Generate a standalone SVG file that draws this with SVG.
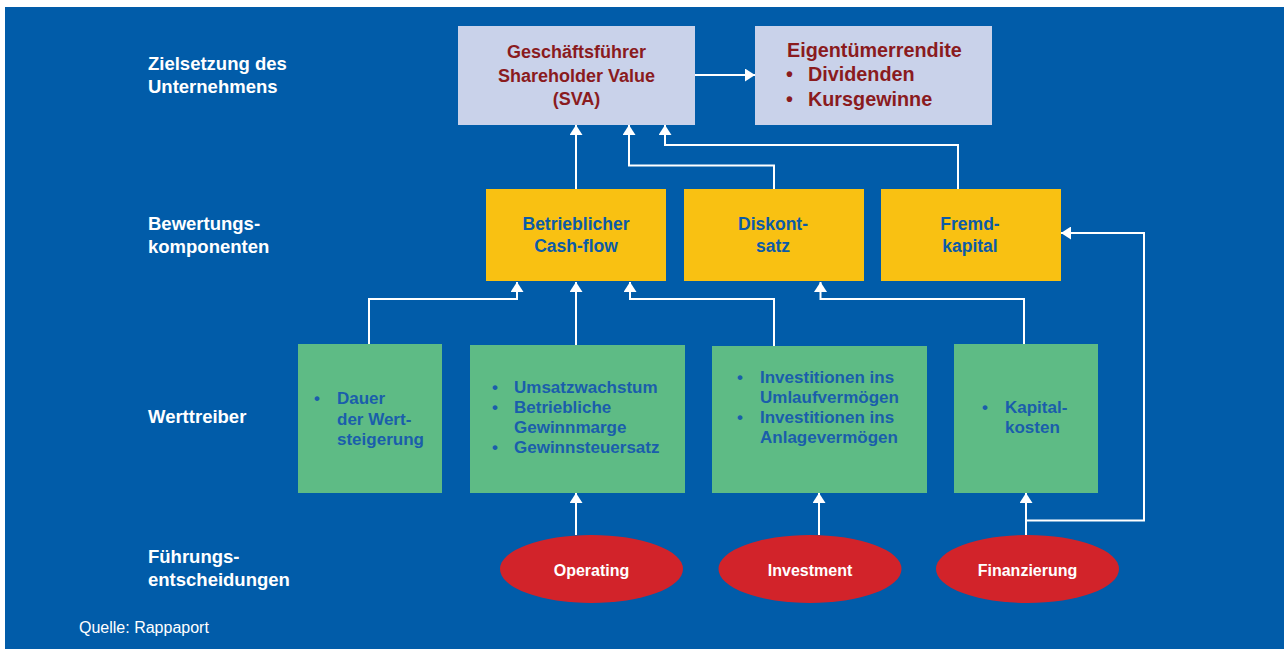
<svg xmlns="http://www.w3.org/2000/svg" width="1284" height="650" viewBox="0 0 1284 650">
  <defs>
    <marker id="ah" viewBox="0 0 10 13" refX="10" refY="6.5" markerWidth="10" markerHeight="13" orient="auto" markerUnits="userSpaceOnUse">
      <path d="M0,0 L10,6.5 L0,13 z" fill="#ffffff"/>
    </marker>
    <style>
      .lbl { font-family: "Liberation Sans", Arial, sans-serif; font-weight: bold; font-size: 18.5px; fill: #ffffff; }
      .src { font-family: "Liberation Sans", Arial, sans-serif; font-size: 16px; fill: #ffffff; }
      .top { fill: #C9D2EA; }
      .topt { font-family: "Liberation Sans", Arial, sans-serif; font-weight: bold; font-size: 18px; fill: #8A1B1E; }
      .topt2 { font-family: "Liberation Sans", Arial, sans-serif; font-weight: bold; font-size: 19.8px; fill: #8A1B1E; }
      .yel { fill: #F9C112; }
      .yelt { font-family: "Liberation Sans", Arial, sans-serif; font-weight: bold; font-size: 17.5px; fill: #0C5BA8; text-anchor: middle; }
      .grn { fill: #5EBB85; }
      .grnt { font-family: "Liberation Sans", Arial, sans-serif; font-weight: bold; font-size: 17px; fill: #1A5EAB; }
      .red { fill: #D2232A; }
      .redt { font-family: "Liberation Sans", Arial, sans-serif; font-weight: bold; font-size: 16px; fill: #ffffff; text-anchor: middle; }
      .con { fill: none; stroke: #ffffff; stroke-width: 2; }
    </style>
  </defs>

  <rect x="0" y="0" width="1284" height="650" fill="#ffffff"/>
  <rect x="5" y="7" width="1279" height="642" fill="#015CA9"/>

  <g id="row-labels">
    <text class="lbl" x="148" y="70">Zielsetzung des</text>
    <text class="lbl" x="148" y="93">Unternehmens</text>
    <text class="lbl" x="148" y="230">Bewertungs-</text>
    <text class="lbl" x="148" y="253">komponenten</text>
    <text class="lbl" x="148" y="423">Werttreiber</text>
    <text class="lbl" x="148" y="563">Führungs-</text>
    <text class="lbl" x="148" y="586">entscheidungen</text>
  </g>
  <text id="source" class="src" x="79" y="633">Quelle: Rappaport</text>

  <g id="connectors">
    <path class="con" d="M695,75 H755" marker-end="url(#ah)"/>
    <path class="con" d="M576,189 V125" marker-end="url(#ah)"/>
    <path class="con" d="M774,189 V165.5 H629 V125" marker-end="url(#ah)"/>
    <path class="con" d="M958,189 V145 H665 V125" marker-end="url(#ah)"/>
    <path class="con" d="M369,344 V299 H517 V282" marker-end="url(#ah)"/>
    <path class="con" d="M576,345 V282" marker-end="url(#ah)"/>
    <path class="con" d="M774,346 V299 H630 V282" marker-end="url(#ah)"/>
    <path class="con" d="M1024,344 V299 H820.5 V282" marker-end="url(#ah)"/>
    <path class="con" d="M576,535 V493" marker-end="url(#ah)"/>
    <path class="con" d="M819,535 V493" marker-end="url(#ah)"/>
    <path class="con" d="M1026,535 V493" marker-end="url(#ah)"/>
    <path class="con" d="M1026,520.5 H1144 V233 H1061" marker-end="url(#ah)"/>
  </g>

  <g id="sva">
    <rect class="top" x="458" y="26" width="237" height="99"/>
    <text class="topt" x="576.5" y="57.5" text-anchor="middle">Geschäftsführer</text>
    <text class="topt" x="576.5" y="81.5" text-anchor="middle">Shareholder Value</text>
    <text class="topt" x="576.5" y="104.5" text-anchor="middle">(SVA)</text>
  </g>

  <g id="eigentuemerrendite">
    <rect class="top" x="755" y="26" width="237" height="99"/>
    <text class="topt2" x="787" y="57">Eigentümerrendite</text>
    <text class="topt2" x="786" y="81">•</text>
    <text class="topt2" x="808" y="81">Dividenden</text>
    <text class="topt2" x="786" y="105.5">•</text>
    <text class="topt2" x="808" y="105.5">Kursgewinne</text>
  </g>

  <g id="cashflow">
    <rect class="yel" x="486" y="189" width="180" height="92"/>
    <text class="yelt" x="576" y="230">Betrieblicher</text>
    <text class="yelt" x="576" y="251.5">Cash-flow</text>
  </g>

  <g id="diskontsatz">
    <rect class="yel" x="684" y="189" width="180" height="92"/>
    <text class="yelt" x="773" y="230">Diskont-</text>
    <text class="yelt" x="773" y="251.5">satz</text>
  </g>

  <g id="fremdkapital">
    <rect class="yel" x="881" y="189" width="180" height="92"/>
    <text class="yelt" x="970" y="230">Fremd-</text>
    <text class="yelt" x="970" y="251.5">kapital</text>
  </g>

  <g id="dauer">
    <rect class="grn" x="298" y="344" width="144" height="149"/>
    <text class="grnt" x="314" y="404">•</text>
    <text class="grnt" x="337" y="404">Dauer</text>
    <text class="grnt" x="337" y="424.5">der Wert-</text>
    <text class="grnt" x="337" y="445">steigerung</text>
  </g>

  <g id="operating-treiber">
    <rect class="grn" x="470" y="345" width="215" height="148"/>
    <text class="grnt" x="492" y="392.5">•</text>
    <text class="grnt" x="514" y="392.5">Umsatzwachstum</text>
    <text class="grnt" x="492" y="412.8">•</text>
    <text class="grnt" x="514" y="412.8">Betriebliche</text>
    <text class="grnt" x="514" y="433">Gewinnmarge</text>
    <text class="grnt" x="492" y="453.3">•</text>
    <text class="grnt" x="514" y="453.3">Gewinnsteuersatz</text>
  </g>

  <g id="investitionen">
    <rect class="grn" x="712" y="346" width="215" height="147"/>
    <text class="grnt" x="737" y="382.5">•</text>
    <text class="grnt" x="760" y="382.5">Investitionen ins</text>
    <text class="grnt" x="760" y="402.7">Umlaufvermögen</text>
    <text class="grnt" x="737" y="423">•</text>
    <text class="grnt" x="760" y="423">Investitionen ins</text>
    <text class="grnt" x="760" y="443">Anlagevermögen</text>
  </g>

  <g id="kapitalkosten">
    <rect class="grn" x="954" y="344" width="144" height="149"/>
    <text class="grnt" x="982" y="413">•</text>
    <text class="grnt" x="1005" y="413">Kapital-</text>
    <text class="grnt" x="1005" y="433">kosten</text>
  </g>

  <g id="operating">
    <ellipse class="red" cx="591.5" cy="569" rx="91.5" ry="34"/>
    <text class="redt" x="591.5" y="575.5">Operating</text>
  </g>

  <g id="investment">
    <ellipse class="red" cx="810" cy="569" rx="91.5" ry="34"/>
    <text class="redt" x="810" y="575.5">Investment</text>
  </g>

  <g id="finanzierung">
    <ellipse class="red" cx="1027.5" cy="569" rx="91.5" ry="34"/>
    <text class="redt" x="1027.5" y="575.5">Finanzierung</text>
  </g>
</svg>
